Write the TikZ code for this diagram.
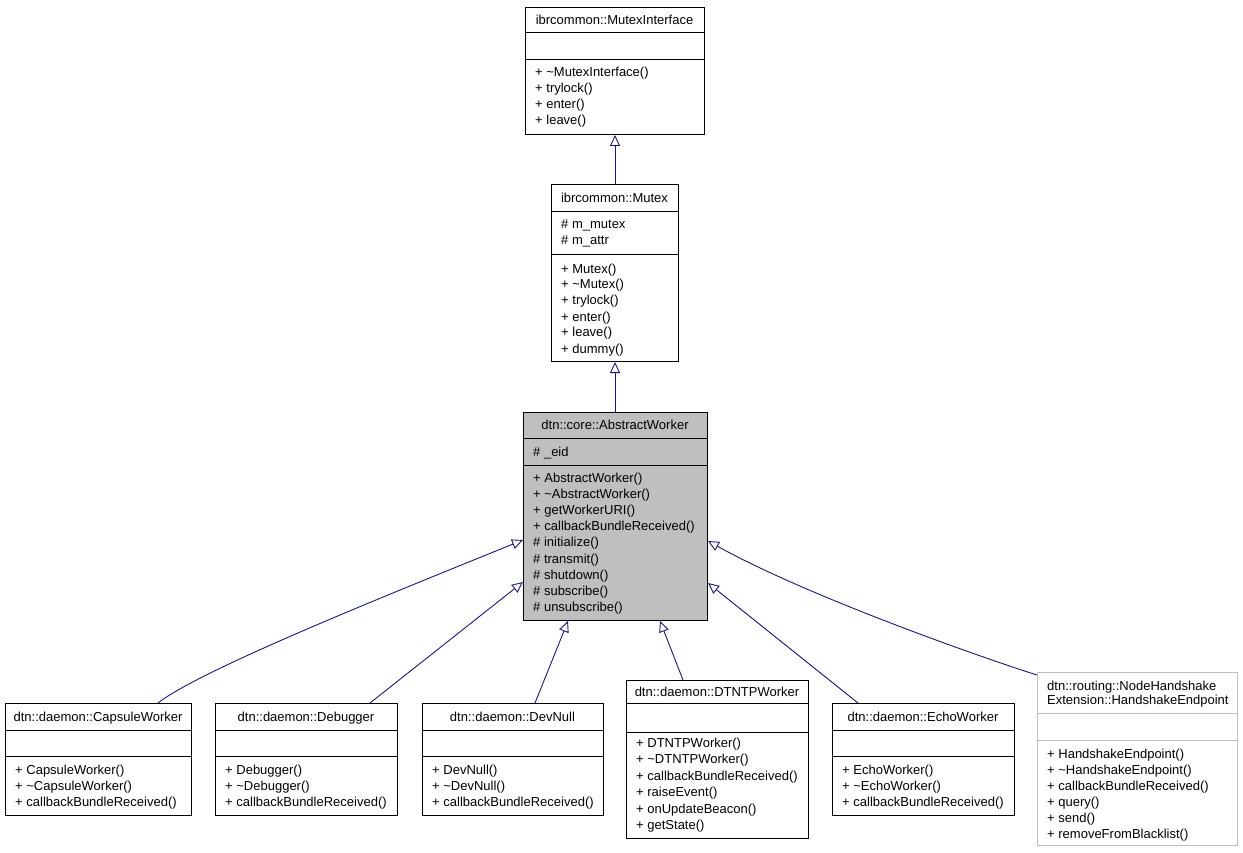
\documentclass[tikz,border=0pt]{standalone}
\usepackage{fontspec}
\setmainfont{Liberation Sans}
\usetikzlibrary{arrows.meta}
\definecolor{edgeblue}{HTML}{191970}
\definecolor{awgray}{HTML}{BFBFBF}
\definecolor{lightborder}{HTML}{BFBFBF}
\begin{document}
\begin{tikzpicture}[x=1pt,y=-1pt,
  cls/.style={draw=black,line width=1pt,inner sep=0pt,anchor=north west},
  sep/.style={draw=black,line width=1pt},
  txt/.style={inner sep=0pt,anchor=base west,font=\fontsize{13}{16}\selectfont},
  ttl/.style={inner sep=0pt,anchor=base,font=\fontsize{13}{16}\selectfont},
  edge/.style={draw=edgeblue,line width=0.9pt,-{Triangle[open,length=11pt,width=10pt]}}]
\useasboundingbox (0,0) rectangle (1243,853);

% ---- MutexInterface ----
\node[cls,minimum width=179pt,minimum height=127pt] (mi) at (525,7) {};
\draw[sep] ([yshift=-26pt]mi.north west) -- ([yshift=-26pt]mi.north east);
\draw[sep] ([yshift=-53pt]mi.north west) -- ([yshift=-53pt]mi.north east);
\node[ttl] (mit) at (614.5,25) {ibrcommon::MutexInterface};
\node[txt] (mi1) at (535,77) {+ \textasciitilde MutexInterface()};
\node[txt] (mi2) at (535,93) {+ trylock()};
\node[txt] (mi3) at (535,109) {+ enter()};
\node[txt] (mi4) at (535,125) {+ leave()};

% ---- Mutex ----
\node[cls,minimum width=127pt,minimum height=177pt] (mx) at (551,184) {};
\draw[sep] ([yshift=-28pt]mx.north west) -- ([yshift=-28pt]mx.north east);
\draw[sep] ([yshift=-71pt]mx.north west) -- ([yshift=-71pt]mx.north east);
\node[ttl] (mxt) at (614.5,203) {ibrcommon::Mutex};
\node[txt] (mxa1) at (561,229) {\# m\_mutex};
\node[txt] (mxa2) at (561,245) {\# m\_attr};
\node[txt] (mx1) at (561,273) {+ Mutex()};
\node[txt] (mx2) at (561,289) {+ \textasciitilde Mutex()};
\node[txt] (mx3) at (561,305) {+ trylock()};
\node[txt] (mx4) at (561,321) {+ enter()};
\node[txt] (mx5) at (561,337) {+ leave()};
\node[txt] (mx6) at (561,353) {+ dummy()};

% ---- AbstractWorker ----
\node[cls,fill=awgray,minimum width=184pt,minimum height=208pt] (aw) at (523,412) {};
\draw[sep] ([yshift=-26pt]aw.north west) -- ([yshift=-26pt]aw.north east);
\draw[sep] ([yshift=-53pt]aw.north west) -- ([yshift=-53pt]aw.north east);
\node[ttl] (awt) at (615,429) {dtn::core::AbstractWorker};
\node[txt] (awa1) at (533,456) {\# \_eid};
\node[txt] (aw1) at (533,482.5) {+ AbstractWorker()};
\node[txt] (aw2) at (533,498.6) {+ \textasciitilde AbstractWorker()};
\node[txt] (aw3) at (533,514.7) {+ getWorkerURI()};
\node[txt] (aw4) at (533,530.8) {+ callbackBundleReceived()};
\node[txt] (aw5) at (533,546.9) {\# initialize()};
\node[txt] (aw6) at (533,563.0) {\# transmit()};
\node[txt] (aw7) at (533,579.1) {\# shutdown()};
\node[txt] (aw8) at (533,595.2) {\# subscribe()};
\node[txt] (aw9) at (533,611.3) {\# unsubscribe()};

% ---- CapsuleWorker ----
\node[cls,minimum width=186pt,minimum height=112pt] (cw) at (5,703) {};
\draw[sep] ([yshift=-27pt]cw.north west) -- ([yshift=-27pt]cw.north east);
\draw[sep] ([yshift=-53pt]cw.north west) -- ([yshift=-53pt]cw.north east);
\node[ttl] (cwt) at (98,721.5) {dtn::daemon::CapsuleWorker};
\node[txt] (cw1) at (15,774.5) {+ CapsuleWorker()};
\node[txt] (cw2) at (15,790.5) {+ \textasciitilde CapsuleWorker()};
\node[txt] (cw3) at (15,806.5) {+ callbackBundleReceived()};

% ---- Debugger ----
\node[cls,minimum width=182pt,minimum height=112pt] (db) at (215,703) {};
\draw[sep] ([yshift=-27pt]db.north west) -- ([yshift=-27pt]db.north east);
\draw[sep] ([yshift=-53pt]db.north west) -- ([yshift=-53pt]db.north east);
\node[ttl] (dbt) at (306,721.5) {dtn::daemon::Debugger};
\node[txt] (db1) at (225,774.5) {+ Debugger()};
\node[txt] (db2) at (225,790.5) {+ \textasciitilde Debugger()};
\node[txt] (db3) at (225,806.5) {+ callbackBundleReceived()};

% ---- DevNull ----
\node[cls,minimum width=181pt,minimum height=112pt] (dn) at (422,703) {};
\draw[sep] ([yshift=-27pt]dn.north west) -- ([yshift=-27pt]dn.north east);
\draw[sep] ([yshift=-53pt]dn.north west) -- ([yshift=-53pt]dn.north east);
\node[ttl] (dnt) at (512.5,721.5) {dtn::daemon::DevNull};
\node[txt] (dn1) at (432,774.5) {+ DevNull()};
\node[txt] (dn2) at (432,790.5) {+ \textasciitilde DevNull()};
\node[txt] (dn3) at (432,806.5) {+ callbackBundleReceived()};

% ---- DTNTPWorker ----
\node[cls,minimum width=182pt,minimum height=158pt] (dt) at (626,680) {};
\draw[sep] ([yshift=-23pt]dt.north west) -- ([yshift=-23pt]dt.north east);
\draw[sep] ([yshift=-52pt]dt.north west) -- ([yshift=-52pt]dt.north east);
\node[ttl] (dtt) at (717,696.5) {dtn::daemon::DTNTPWorker};
\node[txt] (dt1) at (636,747.5) {+ DTNTPWorker()};
\node[txt] (dt2) at (636,763.9) {+ \textasciitilde DTNTPWorker()};
\node[txt] (dt3) at (636,780.3) {+ callbackBundleReceived()};
\node[txt] (dt4) at (636,796.7) {+ raiseEvent()};
\node[txt] (dt5) at (636,813.1) {+ onUpdateBeacon()};
\node[txt] (dt6) at (636,829.5) {+ getState()};

% ---- EchoWorker ----
\node[cls,minimum width=182pt,minimum height=112pt] (ew) at (832,703) {};
\draw[sep] ([yshift=-27pt]ew.north west) -- ([yshift=-27pt]ew.north east);
\draw[sep] ([yshift=-53pt]ew.north west) -- ([yshift=-53pt]ew.north east);
\node[ttl] (ewt) at (923,721.5) {dtn::daemon::EchoWorker};
\node[txt] (ew1) at (842,774.5) {+ EchoWorker()};
\node[txt] (ew2) at (842,790.5) {+ \textasciitilde EchoWorker()};
\node[txt] (ew3) at (842,806.5) {+ callbackBundleReceived()};

% ---- HandshakeEndpoint ----
\node[cls,draw=lightborder,minimum width=200pt,minimum height=173pt] (he) at (1037,672) {};
\draw[sep,draw=lightborder] ([yshift=-41pt]he.north west) -- ([yshift=-41pt]he.north east);
\draw[sep,draw=lightborder] ([yshift=-68pt]he.north west) -- ([yshift=-68pt]he.north east);
\node[txt] (het1) at (1047,690.5) {dtn::routing::NodeHandshake};
\node[txt] (het2) at (1047,704.5) {Extension::HandshakeEndpoint};
\node[txt] (he1) at (1047,758.5) {+ HandshakeEndpoint()};
\node[txt] (he2) at (1047,774.5) {+ \textasciitilde HandshakeEndpoint()};
\node[txt] (he3) at (1047,790.5) {+ callbackBundleReceived()};
\node[txt] (he4) at (1047,806.5) {+ query()};
\node[txt] (he5) at (1047,822.5) {+ send()};
\node[txt] (he6) at (1047,838.5) {+ removeFromBlacklist()};

% ---- curve control points ----
\coordinate (cwc1) at (200,670);
\coordinate (cwc2) at (390,594);
\coordinate (hec1) at (980,657);
\coordinate (hec2) at (807,596);

% ---- inheritance edges ----
\draw[edge] (mx.north) -- (mi.south);
\draw[edge] (aw.north -| mx.south) -- (mx.south);
\draw[edge] ([xshift=153pt]cw.north west) .. controls (cwc1) and (cwc2) .. ([yshift=-128pt]aw.north west);
\draw[edge] ([xshift=155pt]db.north west) -- ([yshift=-170pt]aw.north west);
\draw[edge] ([xshift=113pt]dn.north west) -- ([xshift=45pt]aw.south west);
\draw[edge] ([xshift=57pt]dt.north west) -- ([xshift=137pt]aw.south west);
\draw[edge] ([xshift=26pt]ew.north west) -- ([yshift=-171pt]aw.north east);
\draw[edge] ([yshift=-3pt]he.north west) .. controls (hec1) and (hec2) .. ([yshift=-129pt]aw.north east);
\end{tikzpicture}
\end{document}
